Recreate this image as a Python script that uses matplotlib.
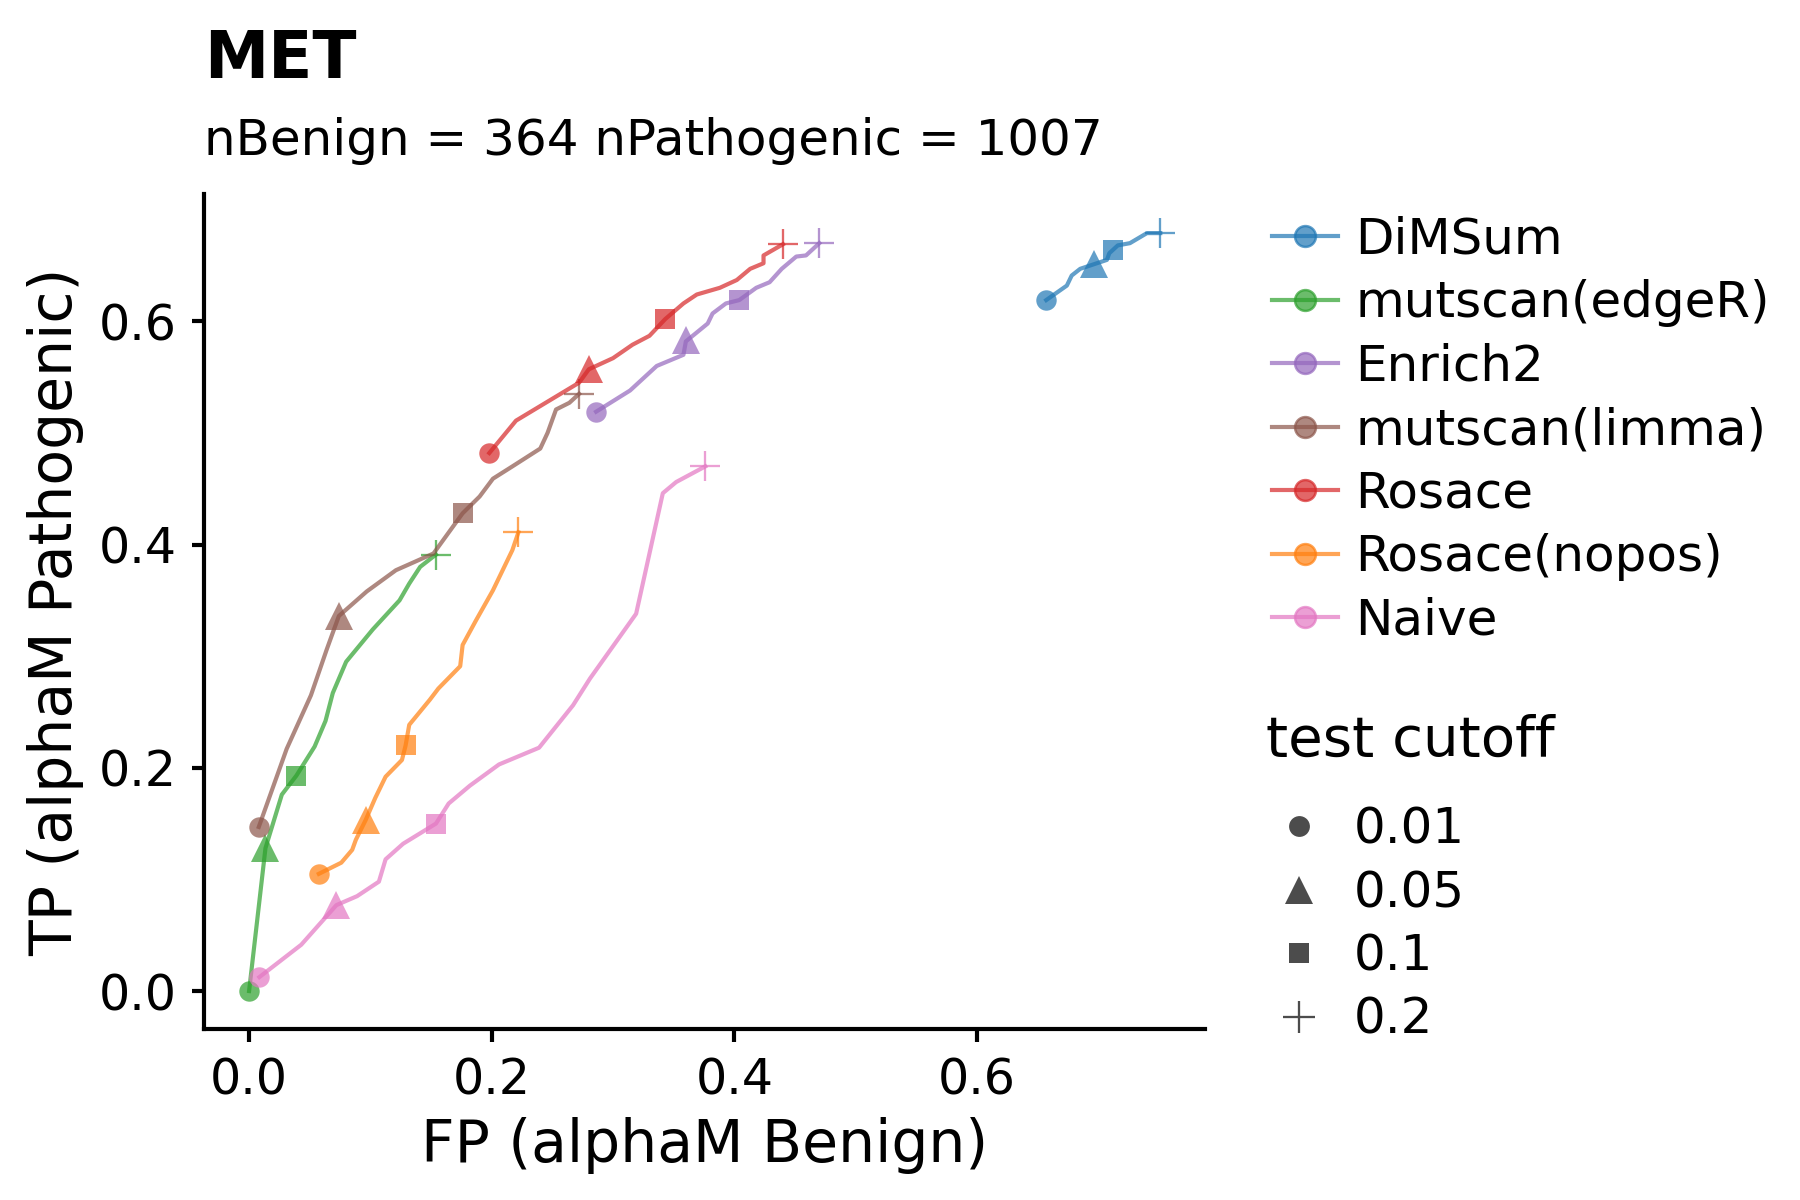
import matplotlib
matplotlib.use("Agg")
import matplotlib.pyplot as plt
from matplotlib.lines import Line2D

# ---------------- data ----------------
methods = ["DiMSum", "mutscan(edgeR)", "Enrich2", "mutscan(limma)",
           "Rosace", "Rosace(nopos)", "Naive"]
colors = ["#1f77b4", "#2ca02c", "#9467bd", "#8c564b",
          "#d62728", "#ff7f0e", "#e377c2"]
cutoffs = ["0.01", "0.05", "0.1", "0.2"]
cutoff_markers = ["o", "^", "s", "+"]

dimsum_fp = [0.657, 0.674, 0.678, 0.685, 0.696, 0.707, 0.709, 0.712, 0.716, 0.726, 0.740, 0.751]
dimsum_tp = [0.619, 0.632, 0.641, 0.647, 0.651, 0.655, 0.661, 0.664, 0.668, 0.670, 0.679, 0.679]
dimsum_cut_fp = [0.657, 0.696, 0.712, 0.751]
dimsum_cut_tp = [0.619, 0.651, 0.664, 0.679]

edger_fp = [0.000, 0.0135, 0.027, 0.039, 0.054, 0.063, 0.069, 0.080, 0.102, 0.124, 0.132, 0.141, 0.154]
edger_tp = [0.000, 0.128, 0.176, 0.193, 0.219, 0.242, 0.267, 0.295, 0.324, 0.350, 0.365, 0.380, 0.391]
edger_cut_fp = [0.000, 0.0135, 0.039, 0.154]
edger_cut_tp = [0.000, 0.128, 0.193, 0.391]

enrich2_fp = [0.286, 0.314, 0.336, 0.358, 0.360, 0.378, 0.382, 0.393, 0.404, 0.418, 0.429, 0.439, 0.451, 0.459, 0.470]
enrich2_tp = [0.519, 0.538, 0.560, 0.570, 0.582, 0.598, 0.607, 0.616, 0.619, 0.630, 0.635, 0.647, 0.658, 0.659, 0.670]
enrich2_cut_fp = [0.286, 0.360, 0.404, 0.470]
enrich2_cut_tp = [0.519, 0.583, 0.619, 0.670]

limma_fp = [0.008, 0.031, 0.051, 0.064, 0.074, 0.097, 0.121, 0.152, 0.168, 0.176, 0.190, 0.201, 0.217, 0.240, 0.246, 0.253, 0.264, 0.272]
limma_tp = [0.147, 0.217, 0.265, 0.306, 0.336, 0.358, 0.377, 0.392, 0.416, 0.428, 0.443, 0.459, 0.470, 0.486, 0.500, 0.521, 0.527, 0.535]
limma_cut_fp = [0.008, 0.074, 0.176, 0.272]
limma_cut_tp = [0.147, 0.336, 0.428, 0.535]

rosace_fp = [0.198, 0.220, 0.272, 0.280, 0.300, 0.316, 0.330, 0.343, 0.358, 0.369, 0.388, 0.402, 0.413, 0.424, 0.424, 0.440]
rosace_tp = [0.482, 0.511, 0.545, 0.557, 0.567, 0.579, 0.587, 0.602, 0.616, 0.624, 0.630, 0.637, 0.647, 0.652, 0.659, 0.669]
rosace_cut_fp = [0.198, 0.280, 0.343, 0.440]
rosace_cut_tp = [0.482, 0.557, 0.602, 0.669]

nopos_fp = [0.0575, 0.076, 0.085, 0.088, 0.096, 0.104, 0.1125, 0.126, 0.129, 0.132, 0.149, 0.156, 0.174, 0.176, 0.187, 0.201, 0.217, 0.222]
nopos_tp = [0.105, 0.115, 0.1265, 0.1355, 0.153, 0.173, 0.192, 0.207, 0.220, 0.2385, 0.261, 0.271, 0.291, 0.310, 0.332, 0.359, 0.395, 0.411]
nopos_cut_fp = [0.0575, 0.096, 0.129, 0.222]
nopos_cut_tp = [0.105, 0.153, 0.220, 0.411]

naive_fp = [0.0085, 0.043, 0.072, 0.089, 0.107, 0.1125, 0.127, 0.154, 0.1645, 0.182, 0.206, 0.239, 0.267, 0.281, 0.319, 0.341, 0.352, 0.376]
naive_tp = [0.0125, 0.0415, 0.077, 0.085, 0.098, 0.118, 0.132, 0.150, 0.168, 0.184, 0.203, 0.218, 0.256, 0.280, 0.338, 0.446, 0.456, 0.470]
naive_cut_fp = [0.0085, 0.072, 0.154, 0.376]
naive_cut_tp = [0.0125, 0.077, 0.150, 0.470]

lines_fp = [dimsum_fp, edger_fp, enrich2_fp, limma_fp, rosace_fp, nopos_fp, naive_fp]
lines_tp = [dimsum_tp, edger_tp, enrich2_tp, limma_tp, rosace_tp, nopos_tp, naive_tp]
cuts_fp = [dimsum_cut_fp, edger_cut_fp, enrich2_cut_fp, limma_cut_fp, rosace_cut_fp, nopos_cut_fp, naive_cut_fp]
cuts_tp = [dimsum_cut_tp, edger_cut_tp, enrich2_cut_tp, limma_cut_tp, rosace_cut_tp, nopos_cut_tp, naive_cut_tp]

title = "MET"
subtitle = "nBenign = 364 nPathogenic = 1007"
xlabel = "FP (alphaM Benign)"
ylabel = "TP (alphaM Pathogenic)"

# ---------------- style ----------------
plt.rcParams["font.family"] = ["DejaVu Sans"]
ALPHA = 0.7
LW = 1.0
marker_sizes = {"o": 4.9, "^": 6.5, "s": 4.9, "+": 7.4}
legend_marker_sizes = {"o": 5.0, "^": 6.6, "s": 5.0, "+": 7.8}

fig = plt.figure(figsize=(6, 4), dpi=300)
ax = fig.add_axes([0.1131, 0.1425, 0.6692 - 0.1131, 0.8383 - 0.1425])

for fp, tp, cfp, ctp, col in zip(lines_fp, lines_tp, cuts_fp, cuts_tp, colors):
    ax.plot(fp, tp, color=col, alpha=ALPHA, lw=LW, solid_joinstyle="round")
    for x, y, m in zip(cfp, ctp, cutoff_markers):
        if m == "+":
            ax.plot([x], [y], linestyle="none", marker=m, ms=marker_sizes[m],
                    color=col, alpha=ALPHA, mew=0.55)
        else:
            ax.plot([x], [y], linestyle="none", marker=m, ms=marker_sizes[m],
                    color=col, alpha=ALPHA, mew=0)

ax.set_xlim(-0.0375, 0.7875)
ax.set_ylim(-0.034, 0.714)
ax.set_xticks([0.0, 0.2, 0.4, 0.6])
ax.set_yticks([0.0, 0.2, 0.4, 0.6])
ax.set_xticklabels(["0.0", "0.2", "0.4", "0.6"])
ax.set_yticklabels(["0.0", "0.2", "0.4", "0.6"])
for s in ["top", "right"]:
    ax.spines[s].set_visible(False)
for s in ["left", "bottom"]:
    ax.spines[s].set_linewidth(1.0)
ax.tick_params(axis="both", length=3.0, width=1.0, labelsize=11.8, pad=3.5)
ax.set_xlabel(xlabel, fontsize=14, labelpad=3)
ax.set_ylabel(ylabel, fontsize=14, labelpad=3.3)

fig.text(204 / 1800, 1 - 78 / 1200, title, fontsize=15.5, fontweight="bold",
         ha="left", va="baseline")
fig.text(204 / 1800, 1 - 155 / 1200, subtitle, fontsize=12,
         ha="left", va="baseline")

# legend 1: methods
h1 = [Line2D([0], [0], color=c, lw=LW, alpha=ALPHA, marker="o", ms=5.0, mew=0.6)
      for c in colors]
leg1 = fig.legend(h1, methods, loc="upper left",
                  bbox_to_anchor=(1272 / 1800, 1 - 216 / 1200),
                  frameon=False, fontsize=12, handlelength=1.32,
                  handletextpad=0.34, labelspacing=0.31, borderpad=0,
                  borderaxespad=0)

# legend 2: cutoff markers
h2 = []
for m in cutoff_markers:
    if m == "+":
        h2.append(Line2D([0], [0], linestyle="none", marker=m, color="black",
                         alpha=ALPHA, ms=legend_marker_sizes[m], mew=0.55))
    else:
        h2.append(Line2D([0], [0], linestyle="none", marker=m, color="black",
                         alpha=ALPHA, ms=legend_marker_sizes[m], mew=0))
leg2 = fig.legend(h2, cutoffs, loc="upper left",
                  bbox_to_anchor=(1266 / 1800, 1 - 714 / 1200),
                  frameon=False, fontsize=12, handlelength=1.32,
                  handletextpad=0.43, labelspacing=0.31, borderpad=0,
                  borderaxespad=0, title="test cutoff",
                  title_fontsize=13.5, alignment="left")
leg2._legend_box.sep = 9

fig.savefig("out.png", dpi=300)
